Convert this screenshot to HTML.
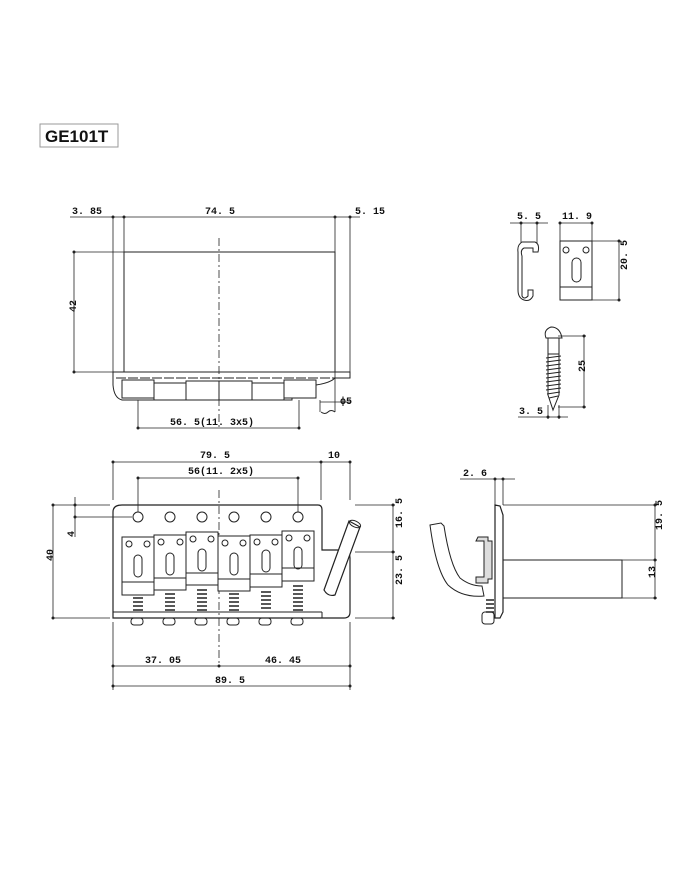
<!DOCTYPE html>
<html><head><meta charset="utf-8"><style>
html,body{margin:0;padding:0;background:#fff;}
svg{display:block;}
text{font-family:"Liberation Mono",monospace;font-size:10px;font-weight:bold;fill:#111;}
</style></head><body>
<svg width="700" height="869" viewBox="0 0 700 869" xmlns="http://www.w3.org/2000/svg" stroke="#222" fill="none" stroke-width="1">
<!-- title -->
<rect x="40" y="124" width="78" height="23" stroke="#999" fill="#fff"/>
<text x="45" y="142" style="font-family:'Liberation Sans',sans-serif;font-weight:bold;font-size:17px" stroke="none">GE101T</text>

<!-- TOP VIEW -->
<g stroke-width="0.8">
<line x1="70" y1="217" x2="360" y2="217"/>
<line x1="113" y1="217" x2="113" y2="375"/>
<line x1="124" y1="217" x2="124" y2="252"/>
<line x1="335" y1="217" x2="335" y2="252"/>
<line x1="350" y1="217" x2="350" y2="372"/>
<line x1="74" y1="252" x2="74" y2="372"/>
<line x1="74" y1="252" x2="124" y2="252"/>
<line x1="74" y1="372" x2="113" y2="372"/>
<line x1="219" y1="238" x2="219" y2="430" stroke-dasharray="8,3,2,3"/>
<line x1="138" y1="400" x2="138" y2="429"/>
<line x1="299" y1="400" x2="299" y2="429"/>
<line x1="138" y1="428" x2="299" y2="428"/>
<line x1="320" y1="400" x2="320" y2="412"/><line x1="335" y1="372" x2="335" y2="412"/>
<line x1="320" y1="402" x2="350" y2="402"/>
</g>
<g fill="#222" stroke="none">
<circle cx="113" cy="217" r="1.5"/><circle cx="124" cy="217" r="1.5"/><circle cx="335" cy="217" r="1.5"/><circle cx="350" cy="217" r="1.5"/>
<circle cx="74" cy="252" r="1.5"/><circle cx="74" cy="372" r="1.5"/>
<circle cx="138" cy="428" r="1.5"/><circle cx="299" cy="428" r="1.5"/>
</g>
<rect x="124" y="252" width="211" height="120"/>
<path d="M113 372 H350 V378 H335 Q330 383 316 385 V398 H292 V400 H122 Q114 398 113 385 Z"/>
<line x1="116" y1="378" x2="335" y2="378" stroke-dasharray="10,2"/>
<g fill="#fff">
<rect x="122" y="380" width="32" height="18"/><rect x="154" y="383" width="32" height="17"/>
<rect x="186" y="381" width="33" height="19"/><rect x="219" y="381" width="33" height="19"/>
<rect x="252" y="383" width="32" height="17"/><rect x="284" y="380" width="32" height="18"/>
</g>
<path d="M321 412 q4 3 7 0 q3 -3 7 0" />
<text x="72" y="214" stroke="none">3. 85</text>
<text x="205" y="214" stroke="none">74. 5</text>
<text x="355" y="214" stroke="none">5. 15</text>
<text x="70" y="318" transform="rotate(-90 70 312)" stroke="none">42</text>
<text x="340" y="404" stroke="none">ϕ5</text>
<text x="170" y="425" stroke="none">56. 5(11. 3x5)</text>

<!-- SMALL PARTS -->
<g stroke-width="0.8">
<line x1="510" y1="223" x2="548" y2="223"/><line x1="521" y1="223" x2="521" y2="243"/><line x1="537" y1="223" x2="537" y2="243"/>
<line x1="560" y1="223" x2="592" y2="223"/><line x1="560" y1="223" x2="560" y2="241"/><line x1="592" y1="223" x2="592" y2="241"/>
<line x1="592" y1="241" x2="620" y2="241"/><line x1="592" y1="300" x2="620" y2="300"/><line x1="619" y1="241" x2="619" y2="300"/>
<line x1="558" y1="336" x2="586" y2="336"/><line x1="558" y1="407" x2="586" y2="407"/><line x1="584" y1="336" x2="584" y2="407"/>
<line x1="518" y1="417" x2="568" y2="417"/><line x1="548" y1="405" x2="548" y2="419"/><line x1="559" y1="405" x2="559" y2="419"/>
</g>
<g fill="#222" stroke="none">
<circle cx="521" cy="223" r="1.5"/><circle cx="537" cy="223" r="1.5"/><circle cx="560" cy="223" r="1.5"/><circle cx="592" cy="223" r="1.5"/>
<circle cx="619" cy="241" r="1.5"/><circle cx="619" cy="300" r="1.5"/><circle cx="584" cy="336" r="1.5"/><circle cx="584" cy="407" r="1.5"/>
<circle cx="548" cy="417" r="1.5"/><circle cx="559" cy="417" r="1.5"/>
</g>
<path d="M522 242 H535 Q540 244 538 252 H533 V248 H524 Q520 250 522 256 V296 Q524 300 528 296 V290 H533 V296 Q530 302 524 300 Q518 298 518 290 V252 Q517 245 522 242 Z"/>
<rect x="560" y="241" width="32" height="59"/>
<line x1="560" y1="287" x2="592" y2="287"/>
<circle cx="566" cy="250" r="3"/><circle cx="586" cy="250" r="3"/>
<rect x="572" y="258" width="9" height="24" rx="4.5"/>
<path d="M546 338 Q543 330 551 327 Q560 327 562 338 Z"/>
<rect x="548" y="338" width="11" height="16"/>
<path d="M548 354 V395 L553 410 L559 395 V354"/>
<path d="M546 358 L561 356 M546 362 L561 360 M546 366 L561 364 M546 370 L561 368 M546 374 L561 372 M546 378 L561 376 M546 382 L561 380 M546 386 L561 384 M546 390 L561 388 M547 394 L560 392 M549 398 L558 396"/>
<text x="517" y="219" stroke="none">5. 5</text>
<text x="562" y="219" stroke="none">11. 9</text>
<text x="614" y="283" transform="rotate(-90 614 270)" stroke="none">20. 5</text>
<text x="580" y="377" transform="rotate(-90 580 372)" stroke="none">25</text>
<text x="519" y="414" stroke="none">3. 5</text>

<!-- FRONT VIEW -->
<g stroke-width="0.8">
<line x1="113" y1="462" x2="350" y2="462"/>
<line x1="113" y1="462" x2="113" y2="500"/><line x1="321" y1="462" x2="321" y2="500"/><line x1="350" y1="462" x2="350" y2="500"/>
<line x1="138" y1="478" x2="298" y2="478"/><line x1="138" y1="478" x2="138" y2="512"/><line x1="298" y1="478" x2="298" y2="512"/>
<line x1="53" y1="505" x2="53" y2="618"/><line x1="53" y1="505" x2="110" y2="505"/><line x1="53" y1="618" x2="110" y2="618"/>
<line x1="75" y1="505" x2="75" y2="537"/><line x1="75" y1="517" x2="132" y2="517"/><line x1="75" y1="497" x2="75" y2="505"/>
<line x1="355" y1="505" x2="395" y2="505"/><line x1="355" y1="552" x2="395" y2="552"/><line x1="355" y1="618" x2="395" y2="618"/>
<line x1="393" y1="505" x2="393" y2="618"/>
<line x1="113" y1="622" x2="113" y2="690"/><line x1="350" y1="622" x2="350" y2="690"/>
<line x1="113" y1="666" x2="350" y2="666"/><line x1="113" y1="686" x2="350" y2="686"/>
<line x1="219" y1="490" x2="219" y2="666" stroke-dasharray="8,3,2,3"/>
</g>
<g fill="#222" stroke="none">
<circle cx="113" cy="462" r="1.5"/><circle cx="321" cy="462" r="1.5"/><circle cx="350" cy="462" r="1.5"/>
<circle cx="138" cy="478" r="1.5"/><circle cx="298" cy="478" r="1.5"/>
<circle cx="53" cy="505" r="1.5"/><circle cx="53" cy="618" r="1.5"/><circle cx="75" cy="505" r="1.5"/><circle cx="75" cy="517" r="1.5"/>
<circle cx="393" cy="505" r="1.5"/><circle cx="393" cy="552" r="1.5"/><circle cx="393" cy="618" r="1.5"/>
<circle cx="113" cy="666" r="1.5"/><circle cx="219" cy="666" r="1.5"/><circle cx="350" cy="666" r="1.5"/>
<circle cx="113" cy="686" r="1.5"/><circle cx="350" cy="686" r="1.5"/>
</g>
<path d="M113 618 V512 Q113 505 122 505 H318 Q322 505 322 510 V550 H346 Q350 552 350 558 V612 Q350 618 344 618 Z" stroke-width="1.2"/>
<line x1="113" y1="612" x2="322" y2="612"/><line x1="322" y1="612" x2="322" y2="618"/>
<g>
<circle cx="138" cy="517" r="5"/><circle cx="170" cy="517" r="5"/><circle cx="202" cy="517" r="5"/><circle cx="234" cy="517" r="5"/><circle cx="266" cy="517" r="5"/><circle cx="298" cy="517" r="5"/>
</g>
<g fill="#fff">
<rect x="122" y="537" width="32" height="58"/><rect x="154" y="535" width="32" height="55"/><rect x="186" y="532" width="32" height="53"/>
<rect x="218" y="536" width="32" height="55"/><rect x="250" y="535" width="32" height="52"/><rect x="282" y="531" width="32" height="50"/>
</g>
<g>
<line x1="122" y1="582" x2="154" y2="582"/><line x1="154" y1="578" x2="186" y2="578"/><line x1="186" y1="573" x2="218" y2="573"/>
<line x1="218" y1="579" x2="250" y2="579"/><line x1="250" y1="574" x2="282" y2="574"/><line x1="282" y1="568" x2="314" y2="568"/>
<circle cx="129" cy="544" r="3"/><circle cx="147" cy="544" r="3"/><circle cx="161" cy="542" r="3"/><circle cx="180" cy="542" r="3"/>
<circle cx="193" cy="539" r="3"/><circle cx="211" cy="539" r="3"/><circle cx="225" cy="543" r="3"/><circle cx="243" cy="543" r="3"/>
<circle cx="257" cy="542" r="3"/><circle cx="275" cy="542" r="3"/><circle cx="289" cy="538" r="3"/><circle cx="307" cy="538" r="3"/>
<rect x="134" y="555" width="8" height="22" rx="4"/><rect x="166" y="553" width="8" height="22" rx="4"/><rect x="198" y="549" width="8" height="22" rx="4"/>
<rect x="230" y="553" width="8" height="22" rx="4"/><rect x="262" y="550" width="8" height="22" rx="4"/><rect x="294" y="547" width="8" height="22" rx="4"/>
</g>
<g stroke-width="1.4">
<path d="M133 598h10M133 602h10M133 606h10M133 610h10"/>
<path d="M165 594h10M165 598h10M165 602h10M165 606h10M165 610h10"/>
<path d="M197 590h10M197 594h10M197 598h10M197 602h10M197 606h10M197 610h10"/>
<path d="M229 594h10M229 598h10M229 602h10M229 606h10M229 610h10"/>
<path d="M261 592h10M261 596h10M261 600h10M261 604h10M261 608h10"/>
<path d="M293 586h10M293 590h10M293 594h10M293 598h10M293 602h10M293 606h10M293 610h10"/>
</g>
<g>
<rect x="131" y="618" width="12" height="7" rx="3"/><rect x="163" y="618" width="12" height="7" rx="3"/><rect x="195" y="618" width="12" height="7" rx="3"/>
<rect x="227" y="618" width="12" height="7" rx="3"/><rect x="259" y="618" width="12" height="7" rx="3"/><rect x="291" y="618" width="12" height="7" rx="3"/>
</g>
<path d="M349 521 L360 527 L335 595 Q328 597 324 590 Z" fill="#fff" stroke-width="1.2"/>
<ellipse cx="355" cy="524" rx="6" ry="3" transform="rotate(25 355 524)"/>
<text x="200" y="458" stroke="none">79. 5</text>
<text x="328" y="458" stroke="none">10</text>
<text x="188" y="474" stroke="none">56(11. 2x5)</text>
<text x="48" y="566" transform="rotate(-90 48 561)" stroke="none">40</text>
<text x="70" y="541" transform="rotate(-90 70 537)" stroke="none">4</text>
<text x="389" y="541" transform="rotate(-90 389 528)" stroke="none">16. 5</text>
<text x="389" y="598" transform="rotate(-90 389 585)" stroke="none">23. 5</text>
<text x="145" y="663" stroke="none">37. 05</text>
<text x="265" y="663" stroke="none">46. 45</text>
<text x="215" y="683" stroke="none">89. 5</text>

<!-- SIDE VIEW -->
<g stroke-width="0.8">
<line x1="460" y1="479" x2="515" y2="479"/><line x1="495" y1="479" x2="495" y2="505"/><line x1="503" y1="479" x2="503" y2="505"/>
<line x1="503" y1="505" x2="657" y2="505"/><line x1="622" y1="560" x2="657" y2="560"/><line x1="622" y1="598" x2="657" y2="598"/>
<line x1="655" y1="505" x2="655" y2="598"/>
</g>
<g fill="#222" stroke="none">
<circle cx="495" cy="479" r="1.5"/><circle cx="503" cy="479" r="1.5"/>
<circle cx="655" cy="505" r="1.5"/><circle cx="655" cy="560" r="1.5"/><circle cx="655" cy="598" r="1.5"/>
</g>
<path d="M495 505 L500 506 L503 515 V612 L500 618 H495 Z" stroke-width="1.2"/>
<rect x="503" y="560" width="119" height="38"/>
<path d="M430 525 L441 523 L444 526 Q450 565 460 578 Q470 586 482 586 L484 596 Q462 598 448 585 Q436 570 430 525 Z"/>
<path d="M478 537 h10 v4 h4 v38 h-4 v4 h-12 v-6 h8 v-36 h-8 z" fill="#ddd"/>
<path d="M486 600 h8 M486 604 h8 M486 608 h8 M486 612 h8" stroke-width="1.4"/>
<rect x="482" y="612" width="12" height="12" rx="3"/>
<text x="463" y="476" stroke="none">2. 6</text>
<text x="650" y="542" transform="rotate(-90 650 530)" stroke="none">19. 5</text>
<text x="650" y="583" transform="rotate(-90 650 578)" stroke="none">13</text>
</svg>
</body></html>
